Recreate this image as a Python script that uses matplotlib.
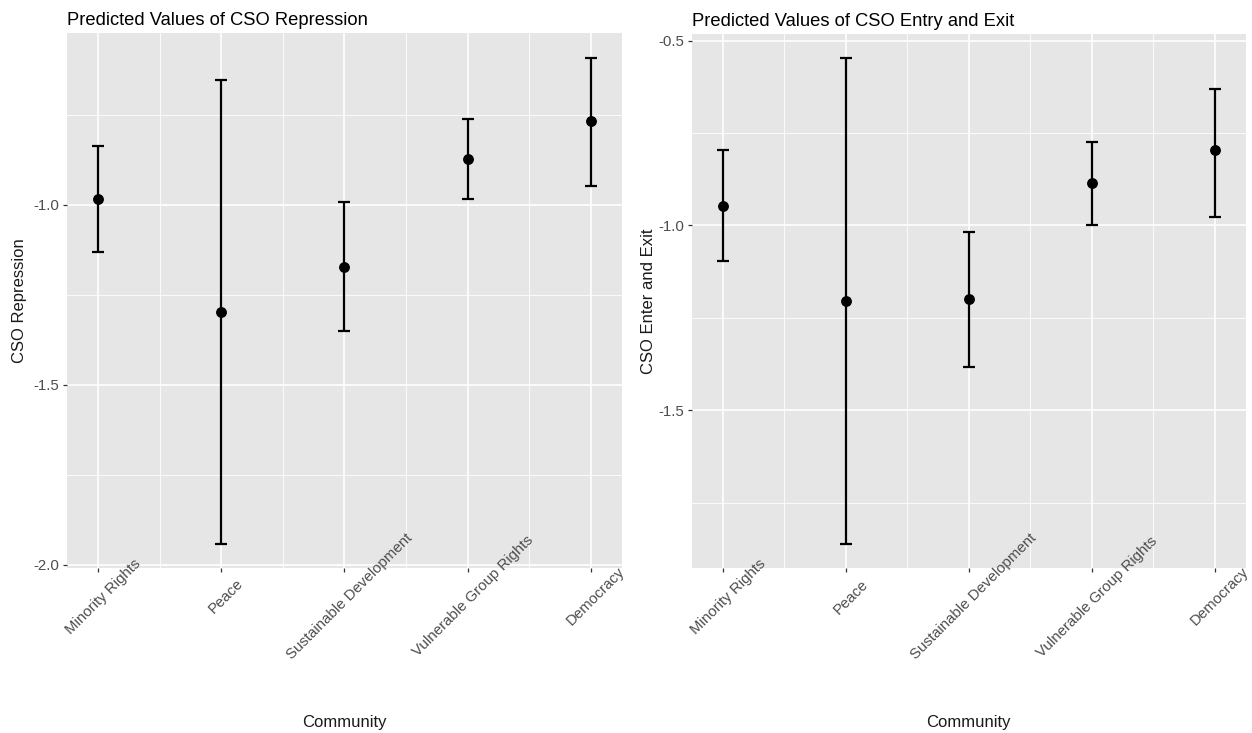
import numpy as np
import matplotlib
matplotlib.use("Agg")
import matplotlib.pyplot as plt
from matplotlib.ticker import MultipleLocator, FormatStrFormatter

plt.rcParams['font.family'] = ['Liberation Sans', 'DejaVu Sans']
plt.rcParams['axes.unicode_minus'] = False

# ---- data ----
categories = ["Minority Rights", "Peace", "Sustainable Development",
              "Vulnerable Group Rights", "Democracy"]

rep_pred = [-0.984, -1.298, -1.174, -0.873, -0.769]
rep_low = [-1.131, -1.941, -1.352, -0.984, -0.947]
rep_high = [-0.836, -0.654, -0.994, -0.762, -0.592]

ee_pred = [-0.946, -1.203, -1.200, -0.886, -0.796]
ee_low = [-1.095, -1.861, -1.383, -0.998, -0.977]
ee_high = [-0.796, -0.548, -1.017, -0.773, -0.630]

titles = ["Predicted Values of CSO Repression", "Predicted Values of CSO Entry and Exit"]
ylabels = ["CSO Repression", "CSO Enter and Exit"]
xlabel = "Community"

PANEL = "#E6E6E6"
TICKTXT = "#4D4D4D"
TICK = "#333333"

fig = plt.figure(figsize=(12.52, 7.33), dpi=100)
W, H = 1252, 733

def rect(l, t, r, b):
    return [l / W, 1 - b / H, (r - l) / W, (b - t) / H]

rects = [rect(66.7, 33.3, 622.3, 568.0), rect(691.7, 34.0, 1246.0, 568.3)]

panels = [
    (rects[0], rep_pred, rep_low, rep_high, titles[0], ylabels[0], -0.0706),
    (rects[1], ee_pred, ee_low, ee_high, titles[1], ylabels[1], -0.0653),
]

for r, pred, low, high, title, ylab, ylab_x in panels:
    ax = fig.add_axes(r)
    x = np.arange(1, len(categories) + 1)
    pred = np.array(pred); low = np.array(low); high = np.array(high)
    ax.set_facecolor(PANEL)
    for s in ax.spines.values():
        s.set_visible(False)
    ax.set_axisbelow(True)

    ax.errorbar(x, pred, yerr=[pred - low, high - pred], fmt='o',
                color='black', ecolor='black', elinewidth=1.6,
                capsize=4.45, capthick=1.6, markersize=6.8, zorder=3)

    # ggplot-like limits (5% expansion of data range incl. errorbar width 0.1)
    xmin, xmax = x.min() - 0.05, x.max() + 0.05
    xr = xmax - xmin
    xlim = (xmin - 0.05 * xr, xmax + 0.05 * xr)
    ax.set_xlim(*xlim)
    ymin, ymax = low.min(), high.max()
    yr = ymax - ymin
    ax.set_ylim(ymin - 0.05 * yr, ymax + 0.05 * yr)

    ax.set_xticks(x)
    ax.xaxis.set_minor_locator(MultipleLocator(0.5))
    ax.yaxis.set_major_locator(MultipleLocator(0.5))
    ax.yaxis.set_minor_locator(MultipleLocator(0.25))
    ax.yaxis.set_major_formatter(FormatStrFormatter('%.1f'))

    ax.grid(which='major', color='white', linewidth=1.2)
    ax.grid(which='minor', color='white', linewidth=0.6)

    ax.tick_params(which='major', length=2.7, width=0.9, color=TICK,
                   labelcolor=TICKTXT, labelsize=10.8)
    ax.tick_params(which='minor', length=0)
    ax.tick_params(axis='x', labelbottom=False, length=0)
    ax.tick_params(axis='y', pad=2.8)

    ax.set_title(title, loc='left', fontsize=13.2, pad=6, color='black')
    ax.set_ylabel(ylab, fontsize=12, color='#1A1A1A')
    ax.yaxis.set_label_coords(ylab_x, 0.5)

    # overlay axes so the rotated category labels sit on top of the grid
    ov = fig.add_axes(r, zorder=ax.get_zorder() + 1)
    ov.patch.set_visible(False)
    for s in ov.spines.values():
        s.set_visible(False)
    ov.set_xlim(*xlim)
    ov.set_yticks([])
    ov.grid(False)
    ov.set_xticks(x, labels=categories, rotation=45, ha='center', va='top',
                  rotation_mode='anchor')
    ov.tick_params(axis='x', length=2.7, width=0.9, color=TICK,
                   labelcolor=TICKTXT, labelsize=10.8, pad=14.2)
    ov.set_xlabel(xlabel, fontsize=12, color='#1A1A1A')
    ov.xaxis.set_label_coords(0.5, -0.275)

fig.savefig("out.png", dpi=100, facecolor='white')
